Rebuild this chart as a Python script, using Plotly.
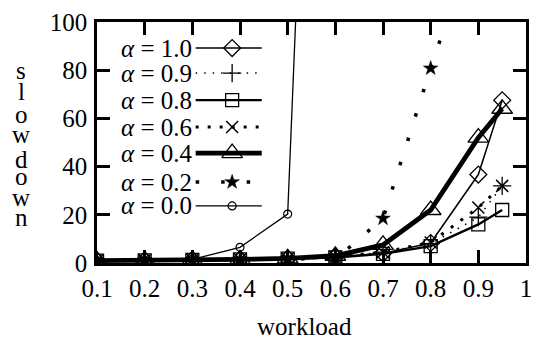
import plotly.graph_objects as go

# ---------------- data ----------------
workload = [0.1, 0.2, 0.3, 0.4, 0.5, 0.6, 0.7, 0.8, 0.9, 0.95]
alpha_10 = [1.0, 1.1, 1.3, 1.5, 1.8, 2.5, 4.0, 8.3, 36.7, 67.5]
alpha_09 = [1.0, 1.1, 1.3, 1.5, 1.8, 2.5, 4.5, 8.0, 19.0, 32.0]
alpha_08 = [1.0, 1.1, 1.3, 1.5, 1.8, 2.3, 3.8, 7.0, 16.0, 22.0]
alpha_06 = [1.0, 1.1, 1.3, 1.5, 1.8, 2.5, 4.5, 8.5, 23.0, 32.0]
alpha_04 = [1.0, 1.1, 1.3, 1.5, 1.9, 3.0, 7.5, 22.0, 52.0, 64.0]
alpha_02 = [1.0, 1.1, 1.3, 1.5, 1.8, 1.5, 18.5, 80.8, 140.0]
alpha_00 = [1.0, 1.1, 1.5, 6.5, 20.3, 500.0]

series_names = ["α = 1.0", "α = 0.9", "α = 0.8", "α = 0.6", "α = 0.4", "α = 0.2", "α = 0.0"]
series_vals = [alpha_10, alpha_09, alpha_08, alpha_06, alpha_04, alpha_02, alpha_00]

x_ticks = [0.1, 0.2, 0.3, 0.4, 0.5, 0.6, 0.7, 0.8, 0.9, 1.0]
x_tick_text = ["0.1", "0.2", "0.3", "0.4", "0.5", "0.6", "0.7", "0.8", "0.9", "1"]
y_ticks = [0, 20, 40, 60, 80, 100]
y_label = "slowdown"
x_label = "workload"

# ---------------- styles ----------------
styles = [
    dict(lw=1.5, dash="solid", sym="diamond-open", size=13, mlw=1.3),
    dict(lw=1.5, dash="1.5px,7px", sym="cross-thin-open", size=13, mlw=1.3),
    dict(lw=2.4, dash="solid", sym="square-open", size=13, mlw=1.3),
    dict(lw=3.0, dash="3px,9px", sym="x-thin-open", size=12, mlw=1.5),
    dict(lw=4.8, dash="solid", sym="triangle-up-open", size=18, mlw=1.3),
    dict(lw=3.5, dash="3.5px,22px", sym="star", size=11, mlw=0.5),
    dict(lw=1.3, dash="solid", sym="circle-open", size=8, mlw=1.2),
]

FONT = "Liberation Serif, Times New Roman, DejaVu Serif, serif"
FS = 25

fig = go.Figure()

for name, vals, st in zip(series_names, series_vals, styles):
    fig.add_trace(go.Scatter(
        x=workload[:len(vals)], y=vals, mode="lines+markers", name=name,
        line=dict(color="black", width=st["lw"], dash=st["dash"]),
        marker=dict(symbol=st["sym"], size=st["size"], color="black",
                    line=dict(color="black", width=st["mlw"])),
        showlegend=False, cliponaxis=True,
    ))

# custom gnuplot-style key (text left of sample) on an overlay axis
row_y = [0.892, 0.788, 0.676, 0.564, 0.456, 0.336, 0.237]
kx0, kxm, kx1, ktext = 0.230, 0.315, 0.384, 0.225
for name, st, ry in zip(series_names, styles, row_y):
    fig.add_trace(go.Scatter(
        x=[kx0, kx1], y=[ry, ry], mode="lines", xaxis="x2", yaxis="y2",
        line=dict(color="black", width=st["lw"], dash=st["dash"]),
        showlegend=False, hoverinfo="skip"))
    fig.add_trace(go.Scatter(
        x=[kxm], y=[ry], mode="markers", xaxis="x2", yaxis="y2",
        marker=dict(symbol=st["sym"], size=st["size"], color="black",
                    line=dict(color="black", width=st["mlw"])),
        showlegend=False, hoverinfo="skip"))
    fig.add_annotation(
        x=ktext, y=ry, xref="x2", yref="y2", xanchor="right", yanchor="middle",
        text=name.replace("α", "<i>α</i>"), showarrow=False,
        font=dict(family=FONT, size=FS, color="black"))

# vertical stacked y-axis label
letter_y_px = [70, 91, 115, 134, 159, 177, 197, 217]
for ch, ypx in zip(y_label, letter_y_px):
    fig.add_annotation(
        x=-0.177, y=(263 - ypx) / 241, xref="paper", yref="paper",
        xanchor="center", yanchor="middle", text=ch, showarrow=False,
        borderpad=0, font=dict(family=FONT, size=FS, color="black"))

fig.add_annotation(
    x=0.483, y=-0.262, xref="paper", yref="paper", xanchor="center",
    yanchor="middle", text=x_label, showarrow=False, borderpad=0,
    font=dict(family=FONT, size=FS, color="black"))

axis_common = dict(
    showline=True, linecolor="black", linewidth=2.5, mirror="ticks",
    ticks="inside", ticklen=13, tickwidth=2.5, tickcolor="black",
    showgrid=False, zeroline=False,
    tickfont=dict(family=FONT, size=FS, color="black"),
)

fig.update_layout(
    width=537, height=340,
    margin=dict(l=97, r=5, t=22, b=77),
    paper_bgcolor="white", plot_bgcolor="white",
    xaxis=dict(range=[0.1, 1.0], tickvals=x_ticks, ticktext=x_tick_text,
               ticklabelstandoff=1, **axis_common),
    yaxis=dict(range=[0, 100], tickvals=y_ticks, ticklabelstandoff=2, **axis_common),
    xaxis2=dict(range=[0, 1], overlaying="x", anchor="y2", visible=False),
    yaxis2=dict(range=[0, 1], overlaying="y", anchor="x2", visible=False),
    font=dict(family=FONT, size=FS, color="black"),
)

fig.write_html("out.html")
